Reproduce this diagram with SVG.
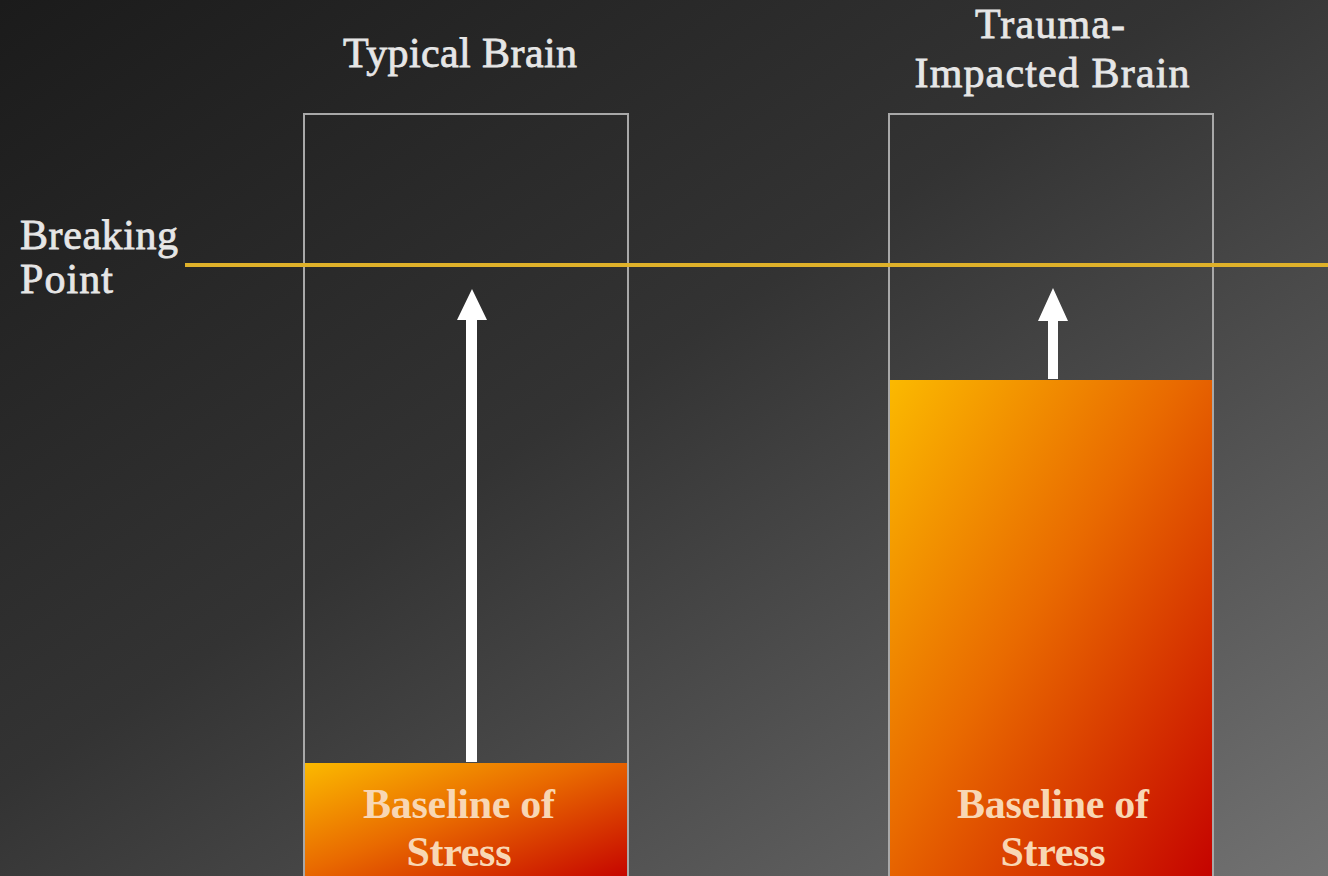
<svg xmlns="http://www.w3.org/2000/svg" width="1328" height="876" viewBox="0 0 1328 876">
  <defs>
    <linearGradient id="bg" x1="0" y1="0" x2="1" y2="1">
      <stop offset="0" stop-color="#1b1b1b"/>
      <stop offset="0.45" stop-color="#333333"/>
      <stop offset="1" stop-color="#727272"/>
    </linearGradient>
    <linearGradient id="heat" x1="0" y1="0" x2="1" y2="1">
      <stop offset="0" stop-color="#fbb900"/>
      <stop offset="0.45" stop-color="#e96a00"/>
      <stop offset="1" stop-color="#c40000"/>
    </linearGradient>
    <style>
      .title, .side { font-family: "Liberation Serif", "DejaVu Serif", serif; font-size: 42px; fill: #e6e6e6; stroke: #e6e6e6; stroke-width: 0.8; }
      .title { text-anchor: middle; }
      .fill-label { font-family: "Liberation Serif", "DejaVu Serif", serif; font-size: 42px; font-weight: bold; fill: #f8d7b4; text-anchor: middle; }
      .frame { fill: none; stroke: #a8a8a8; stroke-width: 2; }
      .heat { fill: url(#heat); }
      .rise { fill: #ffffff; }
    </style>
  </defs>

  <rect x="0" y="0" width="1328" height="876" fill="url(#bg)"/>

  <!-- typical brain column -->
  <g id="typical">
    <text class="title" x="460" y="67" textLength="234">Typical Brain</text>
    <rect class="frame" x="304" y="114" width="324" height="780"/>
    <rect class="heat" x="305" y="763" width="322" height="120"/>
    <text class="fill-label" x="459" y="818" textLength="192">Baseline of</text>
    <text class="fill-label" x="459" y="866" textLength="105">Stress</text>
  </g>

  <!-- trauma-impacted brain column -->
  <g id="trauma">
    <text class="title" x="1050" y="38" textLength="150">Trauma-</text>
    <text class="title" x="1052" y="87" textLength="275">Impacted Brain</text>
    <rect class="frame" x="889" y="114" width="324" height="780"/>
    <rect class="heat" x="890" y="380" width="322" height="510"/>
    <text class="fill-label" x="1053" y="818" textLength="192">Baseline of</text>
    <text class="fill-label" x="1053" y="866" textLength="105">Stress</text>
  </g>

  <!-- breaking point threshold -->
  <g id="breaking-point">
    <text class="side" x="20" y="249" textLength="158">Breaking</text>
    <text class="side" x="20" y="293" textLength="93">Point</text>
    <line x1="185" y1="265" x2="1328" y2="265" stroke="#dfb12a" stroke-width="4"/>
  </g>

  <!-- headroom arrows -->
  <g id="connectors">
    <path class="rise" d="M466,762 L466,320 L457,320 L472,289 L487,320 L477,320 L477,762 Z"/>
    <path class="rise" d="M1048,379 L1048,321 L1038,321 L1053,288 L1068,321 L1058,321 L1058,379 Z"/>
  </g>
</svg>
